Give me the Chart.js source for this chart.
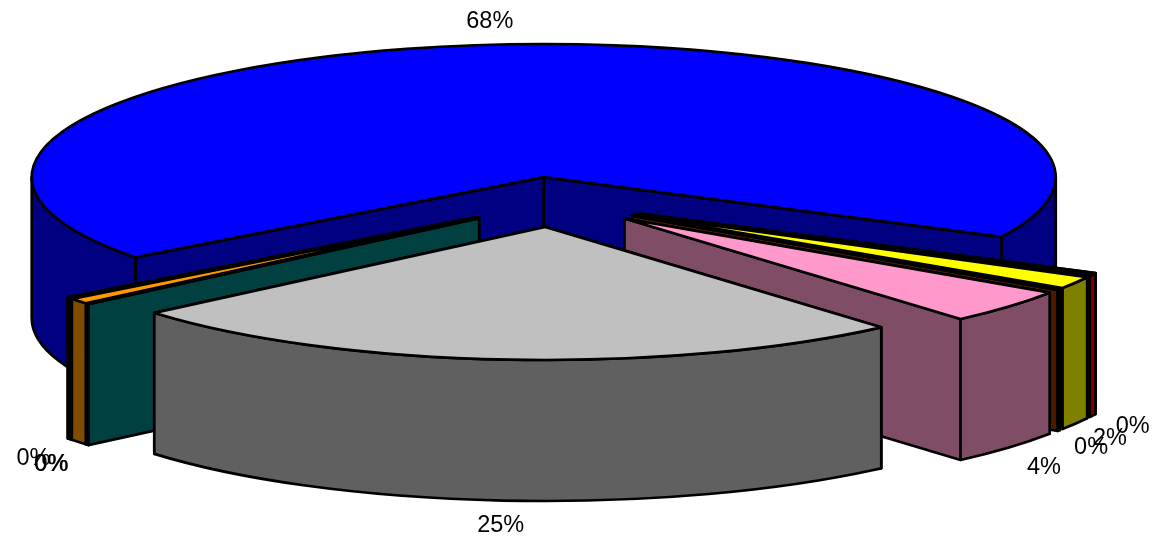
<!DOCTYPE html>
<html>
<head>
<meta charset="utf-8">
<title>Pie</title>
<script src="https://cdn.jsdelivr.net/npm/chart.js@4"></script>
<style>
  html, body { margin: 0; background: #fff; }
  canvas { display: block; }
</style>
</head>
<body>
<canvas id="pie" width="1153" height="537"></canvas>
<script>
/* global Chart */

// clockwise from the left edge of the big slice
const categories = ['A', 'B', 'C', 'D', 'E', 'F', 'G', 'H', 'I']
const shares = [67.7, 0.38, 1.5, 0.13, 4.2, 25.22, 0.05, 0.69, 0.13]
const shareLabels = ['68%', '0%', '2%', '0%', '4%', '25%', '0%', '0%', '0%']
const topColors = ['#0000ff', '#1a0000', '#ffff00', '#993300', '#ff99cc', '#c0c0c0', '#008080', '#ff9900', '#000000']
const wallColors = ['#000080', '#800000', '#808000', '#4d1a00', '#804d66', '#606060', '#004040', '#804d00', '#000000']
// back to front
const paintOrder = [0, 1, 2, 3, 4, 8, 7, 6, 5]
// small hand corrections for the label spots
const labelNudgeX = [-3, -1, -5, -6, 1, -2, -1, 8, 1]
const labelNudgeY = [2, 0, 2, 3, 3, 0, 3, 7, 4]

const TILT = 0.26
const DEPTH = 141
const EXPLODE = 96

const pie3d = {
  id: 'pie3d',
  beforeDatasetDraw (chart, args) {
    const ctx = chart.ctx
    const arcs = args.meta.data
    const cy = arcs[0].y

    ctx.save()
    ctx.lineWidth = 2.7
    ctx.lineJoin = 'round'
    ctx.strokeStyle = '#000'

    paintOrder.forEach(i => {
      const arc = arcs[i]
      const { startAngle, endAngle, outerRadius } = arc
      const mid = (startAngle + endAngle) / 2
      const ax = arc.x + Math.cos(mid) * arc.options.offset
      const ay = cy + Math.sin(mid) * arc.options.offset * TILT
      const rx = outerRadius
      const ry = outerRadius * TILT

      const radialWall = angle => {
        const x = ax + Math.cos(angle) * rx
        const y = ay + Math.sin(angle) * ry
        ctx.beginPath()
        ctx.moveTo(ax, ay)
        ctx.lineTo(x, y)
        ctx.lineTo(x, y + DEPTH)
        ctx.lineTo(ax, ay + DEPTH)
        ctx.closePath()
        ctx.fillStyle = wallColors[i]
        ctx.fill()
        ctx.stroke()
      }
      const rimWall = (a, b) => {
        ctx.beginPath()
        ctx.ellipse(ax, ay, rx, ry, 0, a, b)
        ctx.ellipse(ax, ay + DEPTH, rx, ry, 0, b, a, true)
        ctx.closePath()
        ctx.fillStyle = wallColors[i]
        ctx.fill()
        ctx.stroke()
      }

      // the wall nearer the back goes first
      if (Math.sin(startAngle) < Math.sin(endAngle)) {
        radialWall(startAngle)
        radialWall(endAngle)
      } else {
        radialWall(endAngle)
        radialWall(startAngle)
      }

      // only the part of the rim below the horizon faces us
      const TAU = Math.PI * 2
      for (let k = 0; k < 3; k++) {
        const a = Math.max(startAngle, k * TAU - TAU)
        const b = Math.min(endAngle, k * TAU - TAU + Math.PI)
        if (b > a) rimWall(a, b)
      }

      ctx.beginPath()
      ctx.moveTo(ax, ay)
      ctx.ellipse(ax, ay, rx, ry, 0, startAngle, endAngle)
      ctx.closePath()
      ctx.fillStyle = topColors[i]
      ctx.fill()
      ctx.stroke()
    })

    // percentage labels, just outside the rim
    ctx.fillStyle = '#000'
    ctx.font = '23.5px "Liberation Sans", Arial, sans-serif'
    ctx.textAlign = 'center'
    ctx.textBaseline = 'middle'
    arcs.forEach((arc, i) => {
      const mid = (arc.startAngle + arc.endAngle) / 2
      const dist = arc.options.offset + arc.outerRadius
      const front = Math.sin(mid) > 0 ? DEPTH : 0
      const x = arc.x + Math.cos(mid) * (dist + 46) + labelNudgeX[i]
      const y = cy + Math.sin(mid) * (dist * TILT + 25) + front + labelNudgeY[i]
      ctx.fillText(shareLabels[i], x, y)
    })
    ctx.restore()
    return false
  }
}

const chart = new Chart(document.getElementById('pie'), {
  type: 'pie',
  data: {
    labels: categories,
    datasets: [{
      data: shares,
      backgroundColor: topColors,
      offset: EXPLODE
    }]
  },
  options: {
    responsive: false,
    animation: false,
    rotation: 232.9,
    radius: 512,
    layout: { padding: { right: 48, bottom: 133 } },
    plugins: {
      legend: { display: false },
      tooltip: { enabled: false }
    }
  },
  plugins: [pie3d]
})
</script>
</body>
</html>
